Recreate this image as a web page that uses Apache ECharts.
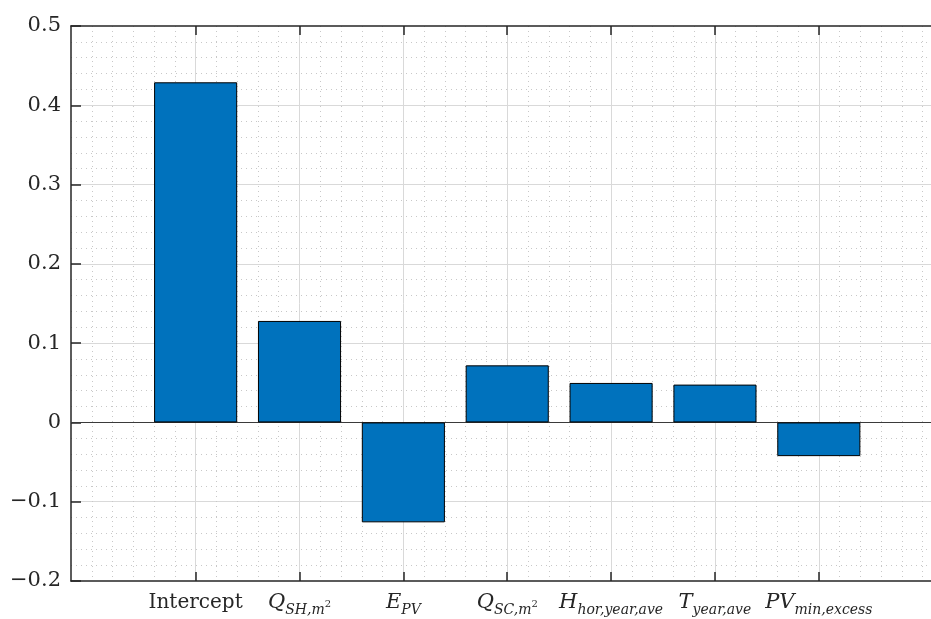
<!DOCTYPE html>
<html>
<head>
<meta charset="utf-8">
<script src="https://cdn.jsdelivr.net/npm/echarts@6/dist/echarts.min.js"></script>
<style>html,body{margin:0;padding:0;background:#fff}#c{width:931px;height:619px}</style>
</head>
<body>
<div id="c"></div>
<script>
// ---- data ----
const xPositions = [1, 2, 3, 4, 5, 6, 7];
const tickLabels = [
  '{n|Intercept}',
  '{i|Q}{s|SH,m}{p|2}',
  '{i|E}{s|PV}',
  '{i|Q}{s|SC,m}{p|2}',
  '{i|H}{s|hor,year,ave}',
  '{i|T}{s|year,ave}',
  '{i|PV}{s|min,excess}'
];
const coefficients = [0.429, 0.128, -0.126, 0.072, 0.0498, 0.0477, -0.0425];
const yTickLabels = ['\u22120.2', '\u22120.1', '0', '0.1', '0.2', '0.3', '0.4', '0.5'];

// ---- layout ----
const W = 931, H = 619;
const plotLeft = 71, plotRight = 931, plotTop = 26, plotBottom = 581;
const xMin = -0.2, xMax = 8.08;
const unit = (plotRight - plotLeft) / (xMax - xMin);
const FONT = 'DejaVu Serif';
const AX = '#262626';

const chart = echarts.init(document.getElementById('c'), null, { renderer: 'canvas' });

const rich = {
  n: { fontFamily: FONT, fontSize: 20, color: AX, lineHeight: 28, verticalAlign: 'middle' },
  i: { fontFamily: FONT, fontStyle: 'italic', fontSize: 21, color: AX, lineHeight: 28, verticalAlign: 'middle' },
  s: { fontFamily: FONT, fontStyle: 'italic', fontSize: 14, color: AX, lineHeight: 14, verticalAlign: 'bottom' },
  p: { fontFamily: FONT, fontSize: 10, color: AX, lineHeight: 10, verticalAlign: 'bottom', padding: [0, 0, 8, 0] }
};

const g1Left = plotLeft + (xPositions[0] - xMin) * unit;
const g1Right = W - (plotLeft + (xPositions[xPositions.length - 1] - xMin) * unit);

chart.setOption({
  animation: false,
  backgroundColor: '#fff',
  grid: [
    { left: plotLeft, right: W - plotRight, top: plotTop, bottom: H - plotBottom, containLabel: false },
    { left: g1Left, right: g1Right, top: plotTop, bottom: H - plotBottom, containLabel: false }
  ],
  xAxis: [
    { // minor vertical grid + bottom axis line
      type: 'value', gridIndex: 0, min: xMin, max: xMax, interval: 0.2, position: 'bottom',
      axisLine: { show: true, onZero: false, lineStyle: { color: AX, width: 1.5 } },
      axisTick: { show: false }, axisLabel: { show: false },
      splitLine: { show: true, showMinLine: false, lineStyle: { color: '#c8c8c8', width: 1, type: [1, 4] } }
    },
    { // top axis line
      type: 'value', gridIndex: 0, min: xMin, max: xMax, position: 'top',
      axisLine: { show: true, onZero: false, lineStyle: { color: AX, width: 1.5 } },
      axisTick: { show: false }, axisLabel: { show: false }, splitLine: { show: false }
    },
    { // major category ticks, grid and labels
      type: 'value', gridIndex: 1, min: xPositions[0], max: xPositions[xPositions.length - 1], interval: 1, position: 'bottom',
      axisLine: { show: false, onZero: false },
      axisTick: { show: true, inside: true, length: 9, lineStyle: { color: AX, width: 1.5 } },
      axisLabel: {
        show: true, margin: 8, showMinLabel: true, showMaxLabel: true,
        formatter: function (v) { const k = xPositions.indexOf(Math.round(v)); return k >= 0 ? tickLabels[k] : ''; },
        rich: rich
      },
      splitLine: { show: true, lineStyle: { color: '#d9d9d9', width: 1 } }
    },
    { // top ticks
      type: 'value', gridIndex: 1, min: xPositions[0], max: xPositions[xPositions.length - 1], interval: 1, position: 'top',
      axisLine: { show: false, onZero: false },
      axisTick: { show: true, inside: true, length: 9, lineStyle: { color: AX, width: 1.5 } },
      axisLabel: { show: false }, splitLine: { show: false }
    }
  ],
  yAxis: [
    {
      type: 'value', gridIndex: 0, min: -0.2, max: 0.5, interval: 0.1,
      axisLine: { show: true, onZero: false, lineStyle: { color: AX, width: 1.5 } },
      axisTick: { show: true, inside: true, length: 10, lineStyle: { color: AX, width: 1.5 } },
      axisLabel: {
        show: true, margin: 10, fontFamily: FONT, fontSize: 21, color: AX,
        formatter: function (v) { const k = Math.round((v + 0.2) * 10); return yTickLabels[k] || ''; }
      },
      splitLine: { show: true, showMinLine: false, showMaxLine: false, lineStyle: { color: '#d9d9d9', width: 1 } },
      minorTick: { show: false, splitNumber: 5 },
      minorSplitLine: { show: true, lineStyle: { color: '#c8c8c8', width: 1, type: [1, 4] } }
    },
    {
      type: 'value', gridIndex: 1, min: -0.2, max: 0.5, interval: 0.1, show: false,
      splitLine: { show: false }
    }
  ],
  series: [
    {
      type: 'bar', xAxisIndex: 0, yAxisIndex: 0,
      data: xPositions.map((x, k) => [x, coefficients[k]]),
      barWidth: 0.8 * unit,
      itemStyle: { color: '#0072BD', borderColor: '#000', borderWidth: 1 },
      z: 3,
      markLine: {
        silent: true, symbol: 'none', z: 2,
        label: { show: false },
        lineStyle: { color: '#3a3a3a', width: 1, type: 'solid' },
        data: [{ yAxis: 0 }]
      }
    }
  ]
});
</script>
</body>
</html>
